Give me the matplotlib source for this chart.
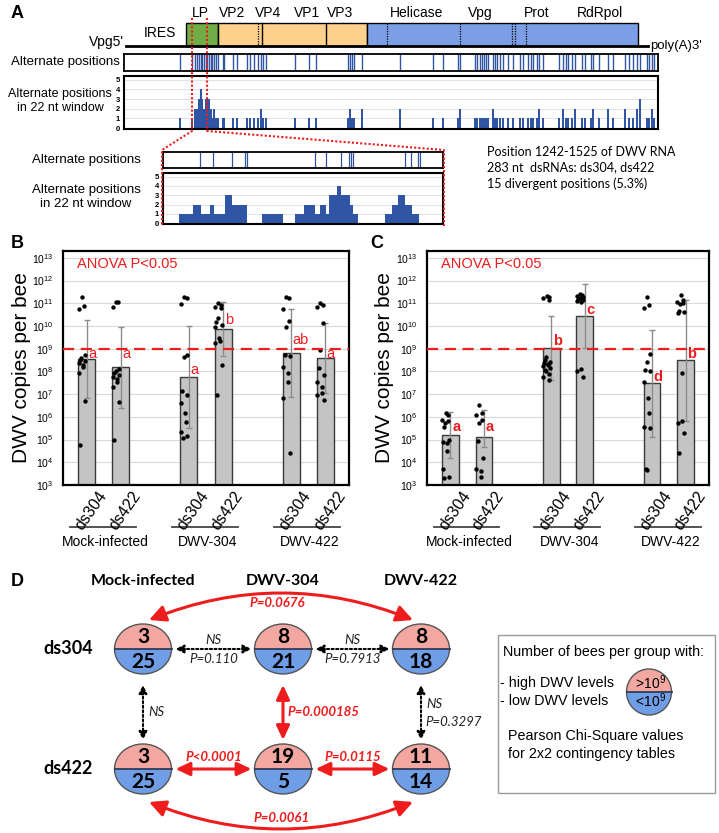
import numpy as np
import matplotlib
matplotlib.use("Agg")
import matplotlib.pyplot as plt
from matplotlib.patches import Rectangle, Polygon, Ellipse, FancyArrowPatch
from matplotlib.transforms import blended_transform_factory

plt.rcParams["font.family"] = ["Liberation Sans", "DejaVu Sans"]
plt.rcParams["mathtext.fontset"] = "custom"
plt.rcParams["mathtext.rm"] = "Liberation Sans"
plt.rcParams["mathtext.it"] = "Liberation Sans:italic"
plt.rcParams["mathtext.bf"] = "Liberation Sans:bold"

W, H = 719, 833
RED = "#ee1c1c"
BLUE = "#2f55a4"

# ---------------- panel A data (nt) ----------------
genome_len = 9850
region_start = [1128, 1732, 4544]
region_end = [1732, 4544, 9658]
region_color = ["#70ad47", "#fdd08c", "#7b9ee6"]
dotted_bounds = [1732, 2487, 4920, 6298, 7280, 7337, 7545]
solid_bounds = [2562, 3770]

alt_positions = [1015, 1247, 1298, 1342, 1374, 1411, 1436, 1468, 1500, 1530, 1562, 1595,
                 1625, 1657, 1695, 1738, 1821, 1851, 2021, 2096, 2274, 2336, 2412, 2493,
                 2538, 2587, 2632, 3185, 3455, 3582, 4191, 4223, 4255, 4299, 4444, 5167,
                 5795, 5972, 6267, 6299, 6582, 6625, 6676, 6708, 6752, 6790, 6833, 6916,
                 6959, 7003, 7054, 7116, 7210, 7293, 7431, 7493, 7588, 7633, 7682, 7746,
                 7795, 7860, 8173, 8248, 8299, 8343, 8407, 8469, 8595, 8658, 8765, 8803,
                 8927, 9097, 9192, 9412, 9494, 9569, 9645, 9695, 9822, 9871, 9916, 9960]
window_counts = [1, 1, 2, 2, 3, 4, 3, 2, 3, 3, 3, 2,
                 1, 2, 1, 1, 1, 1, 1, 1, 1, 1, 1, 1,
                 2, 1, 1, 1, 1, 1, 1, 2, 1, 1, 2, 2,
                 1, 1, 1, 2, 1, 1, 1, 1, 1, 1, 1, 2,
                 1, 1, 1, 1, 1, 1, 1, 1, 1, 1, 1, 1,
                 2, 1, 1, 2, 1, 1, 1, 2, 1, 1, 1, 2,
                 1, 2, 1, 2, 1, 1, 2, 3, 1, 1, 2, 1]

zoom_start, zoom_end = 1242, 1525
zoom_alt_offsets = [37, 51, 70, 83, 85, 154, 165, 180, 188, 190, 192, 245, 251, 258, 260]
zoom_step_edges = [0, 16, 30, 38, 48, 52, 63, 70, 85, 100, 121, 133, 143, 154, 159, 165,
                   168, 176, 180, 189, 192, 197, 224, 231, 238, 245, 252, 259, 283]
zoom_step_counts = [0, 1, 2, 1, 2, 1, 3, 2, 0, 1, 0, 1, 2, 1, 2, 1,
                    3, 4, 3, 2, 1, 0, 1, 2, 3, 2, 1, 0]

gene_labels = ["LP", "VP2", "VP4", "VP1", "VP3", "Helicase", "Vpg", "Prot", "RdRpol"]
gene_label_px = [200, 232, 268, 307, 340, 417, 480, 537, 600]

# ---------------- panels B / C data (log10 copies per bee) ----------------
bar_names = ["ds304", "ds422", "ds304", "ds422", "ds304", "ds422"]
groups = ["Mock-infected", "DWV-304", "DWV-422"]
positions = [1, 2, 4, 5, 7, 8]

b_bar = [8.53, 8.18, 7.77, 9.88, 8.80, 8.58]
b_err_hi = [10.26, 9.94, 10.0, 11.04, 10.73, 10.15]
b_err_lo = [6.81, 6.37, 5.52, 8.69, 6.89, 7.03]
b_dots = [
    [11.26, 10.88, 10.75, 8.72, 8.6, 8.5, 8.45, 8.38, 8.3, 8.2, 7.94, 6.71, 4.76],
    [11.07, 11.04, 10.85, 8.1, 8.0, 7.92, 7.85, 7.75, 7.65, 7.55, 7.3, 6.65, 4.98],
    [11.29, 11.22, 10.97, 8.72, 8.65, 7.15, 6.96, 6.6, 6.15, 5.78, 5.34, 5.15, 5.05],
    [11.0, 10.93, 10.85, 10.78, 10.34, 10.19, 10.04, 9.94, 9.46, 9.35, 9.24, 8.28, 6.96],
    [11.29, 11.22, 10.73, 10.22, 9.97, 8.72, 8.68, 8.18, 7.92, 7.55, 6.81, 4.42],
    [11.03, 10.93, 10.82, 10.12, 8.95, 8.13, 7.84, 7.55, 7.33, 7.06, 6.96, 6.74],
]
b_letters = ["a", "a", "a", "b", "ab", "a"]
b_letter_log10 = [8.59, 8.59, 7.89, 10.09, 9.2, 8.59]

c_bar = [5.2, 5.12, 9.04, 10.44, 7.48, 8.50]
c_err_hi = [6.23, 6.28, 10.44, 11.85, 9.82, 11.15]
c_err_lo = [4.20, 4.66, 7.62, 9.02, 5.12, 5.83]
c_dots = [
    [6.15, 6.08, 5.86, 5.8, 5.74, 5.56, 4.98, 4.9, 4.83, 4.51, 3.69, 3.36, 3.33],
    [6.52, 6.15, 6.08, 5.86, 5.74, 4.95, 4.17, 3.69, 3.63, 3.36],
    [11.3, 11.28, 11.22, 11.15, 8.65, 8.5, 8.43, 8.38, 8.33, 8.28, 8.22, 8.15, 8.08,
     8.0, 7.9, 7.75, 7.6],
    [11.4, 11.35, 11.32, 11.28, 11.25, 11.2, 11.15, 11.1, 11.05, 8.1, 8.0, 7.75],
    [11.29, 10.93, 10.78, 8.75, 8.4, 8.06, 8.0, 7.55, 6.81, 6.15, 5.56, 5.5, 3.72, 3.68],
    [11.37, 11.15, 11.05, 11.0, 10.95, 10.65, 10.6, 10.55, 7.92, 5.8, 5.72, 5.28, 4.43],
]
c_letters = ["a", "a", "b", "c", "d", "b"]
c_letter_log10 = [5.37, 5.37, 9.16, 10.53, 7.58, 8.59]
threshold = 1e9

# ---------------- panel D data ----------------
d_cols = ["Mock-infected", "DWV-304", "DWV-422"]
d_rows = ["ds304", "ds422"]
d_high = [[3, 8, 8], [3, 19, 11]]
d_low = [[25, 21, 18], [25, 5, 14]]
# (row, col) -> (row, col), label lines, significant
d_links = [
    ((0, 0), (0, 1), ["NS", "P=0.110"], False),
    ((0, 1), (0, 2), ["NS", "P=0.7913"], False),
    ((0, 0), (1, 0), ["NS"], False),
    ((0, 1), (1, 1), ["P=0.000185"], True),
    ((0, 2), (1, 2), ["NS", "P=0.3297"], False),
    ((1, 0), (1, 1), ["P<0.0001"], True),
    ((1, 1), (1, 2), ["P=0.0115"], True),
]
d_arcs = [((0, 0), (0, 2), "P=0.0676"), ((1, 0), (1, 2), "P=0.0061")]

# =====================================================================
fig = plt.figure(figsize=(W / 100, H / 100), dpi=100)


def px_axes(x0, y0, x1, y1):
    return fig.add_axes([x0 / W, 1 - y1 / H, (x1 - x0) / W, (y1 - y0) / H])


PX0, NT_PER_PX = 126.2, 18.87


def gx(nt):
    return PX0 + nt / NT_PER_PX


def gxlim(a, b):
    return ((a - PX0) * NT_PER_PX, (b - PX0) * NT_PER_PX)


# ---- genome map ----
gax = px_axes(124, 15, 662, 50)
gax.set_xlim(gxlim(124, 662))
gax.set_ylim(50, 15)
gax.axis("off")
gax.plot([0, genome_len], [46.5, 46.5], color="black", lw=2, clip_on=False)
for s, e, c in zip(region_start, region_end, region_color):
    gax.add_patch(Rectangle((s, 23), e - s, 23.5, fc=c, ec="black", lw=1))
gax.vlines(dotted_bounds, 23, 46.5, colors="black", lw=0.9, linestyles=(0, (1, 1)))
gax.vlines(solid_bounds, 23, 46.5, colors="black", lw=1)

# ---- alternate positions track ----
tax = px_axes(124, 54, 658, 71)
tax.set_xlim(gxlim(124, 658))
tax.set_ylim(0, 1)
tax.vlines(alt_positions, 0, 1, colors=BLUE, lw=1)
tax.set_xticks([])
tax.set_yticks([])
for sp in tax.spines.values():
    sp.set_linewidth(1.3)

# ---- 22 nt window histogram ----
hax = px_axes(124, 76, 658, 129)
hax.set_xlim(gxlim(124, 658))
hax.bar(alt_positions, window_counts, width=34, color=BLUE, zorder=2)
hax.set_ylim(-0.1, 5.4)
hax.set_yticks(range(6))
hax.set_yticklabels([str(i) for i in range(6)], fontsize=5.5, fontweight="bold")
hax.tick_params(axis="y", length=0, pad=3)
hax.set_xticks([])
hax.yaxis.grid(True, color="#e4e4e4", lw=0.8, zorder=0)
for sp in hax.spines.values():
    sp.set_linewidth(1.5)

# ---- zoomed tracks ----
zax = px_axes(163, 152, 443, 168)
zax.set_xlim(zoom_start, zoom_end)
zax.set_ylim(0, 1)
zax.vlines([zoom_start + o for o in zoom_alt_offsets], 0, 1, colors=BLUE, lw=0.9)
zax.set_xticks([])
zax.set_yticks([])
for sp in zax.spines.values():
    sp.set_linewidth(1.3)

zhax = px_axes(163, 173, 443, 224)
zhax.set_xlim(zoom_start, zoom_end)
zhax.stairs(zoom_step_counts, [zoom_start + e for e in zoom_step_edges], fill=True,
            color=BLUE, zorder=2)
zhax.set_ylim(-0.1, 5.4)
zhax.set_yticks(range(6))
zhax.set_yticklabels([str(i) for i in range(6)], fontsize=5.5, fontweight="bold")
zhax.tick_params(axis="y", length=0, pad=3)
zhax.set_xticks([])
zhax.yaxis.grid(True, color="#e4e4e4", lw=0.8, zorder=0)
for sp in zhax.spines.values():
    sp.set_linewidth(1.5)


# ---- bar panels ----
def bar_panel(x0, x1, bar, hi, lo, dots, letters, letter_y, bold):
    ax = px_axes(x0, 251, x1, 485)
    ax.set_yscale("log")
    ax.set_ylim(1e3, 10 ** 13.3)
    ax.set_xlim(0.3, 8.7)
    ax.yaxis.grid(True, color="#d9d9d9", lw=0.8)
    ax.set_axisbelow(True)
    h = 10 ** np.array(bar)
    ax.bar(positions, h, width=0.5, bottom=1e2, color="#c4c4c4", edgecolor="#3a3a3a",
           lw=1, zorder=2)
    ax.errorbar(positions, h, yerr=[h - 10 ** np.array(lo), 10 ** np.array(hi) - h],
                fmt="none", ecolor="#8c8c8c", elinewidth=1, capsize=2, zorder=3)
    for p, vals in zip(positions, dots):
        n = len(vals)
        xs = p - 0.14 + 0.1 * np.sin(np.arange(n) * 2.4)
        ax.scatter(xs, 10 ** np.array(vals), s=10, color="black", zorder=4, lw=0)
    for p, v, t in zip(positions, letter_y, letters):
        ax.text(p + 0.05, 10 ** v, t, color=RED, fontsize=10.5,
                fontweight="bold" if bold else "normal", ha="left", va="baseline",
                zorder=5)
    ax.axhline(threshold, color=RED, lw=1.6, dashes=(5, 3), zorder=4)
    ax.text(0.05, 0.945, "ANOVA P<0.05", color=RED, fontsize=10.5,
            transform=ax.transAxes, va="center")
    ax.set_yticks([10.0 ** k for k in range(3, 14)])
    ax.set_yticklabels([f"$10^{{{k}}}$" for k in range(3, 14)], fontsize=7.5)
    ax.minorticks_off()
    ax.tick_params(axis="y", length=0, pad=7)
    ax.set_xticks([])
    for sp in ax.spines.values():
        sp.set_linewidth(1.6)
    tr = blended_transform_factory(ax.transData, ax.transAxes)
    for p, name in zip(positions, bar_names):
        ax.text(p + 0.32, -0.015, name, fontsize=11.5, rotation=55, rotation_mode="anchor",
                ha="right", va="top", transform=tr)
    for g, name in zip([1.5, 4.5, 7.5], groups):
        ax.plot([g - 1.0, g + 0.95], [-0.18, -0.18], color="#444444", lw=1.3,
                transform=tr, clip_on=False)
        ax.text(g + 0.05, -0.245, name, fontsize=10, ha="center", va="center", transform=tr)
    return ax


bar_panel(63, 349, b_bar, b_err_hi, b_err_lo, b_dots, b_letters, b_letter_log10, False)
bar_panel(427, 709, c_bar, c_err_hi, c_err_lo, c_dots, c_letters, c_letter_log10, True)

# ---- overlay (pixel coordinates) ----
ov = fig.add_axes([0, 0, 1, 1])
ov.set_xlim(0, W)
ov.set_ylim(H, 0)
ov.axis("off")
ov.set_zorder(5)

for t, x in zip("ABCD", [11, 11, 370, 11]):
    y = {"A": 13, "B": 243, "C": 243, "D": 582}[t]
    ov.text(x, y, t, fontsize=13, fontweight="bold", ha="left", va="center")

# panel A texts
for name, x in zip(gene_labels, gene_label_px):
    ov.text(x, 13, name, fontsize=10, ha="center", va="center")
ov.text(160, 33, "IRES", fontsize=10, ha="center", va="center")
ov.text(124, 42, "Vpg5'", fontsize=10, ha="right", va="center")
ov.text(650, 46, "poly(A)3'", fontsize=9.5, ha="left", va="center")
ov.text(120, 62, "Alternate positions", fontsize=9.5, ha="right", va="center")
ov.text(60, 101, "Alternate positions\nin 22 nt window", fontsize=9, ha="center",
        va="center", linespacing=1.3)
ov.text(141, 160, "Alternate positions", fontsize=9.5, ha="right", va="center")
ov.text(86, 197, "Alternate positions\nin 22 nt window", fontsize=9.5, ha="center",
        va="center", linespacing=1.25)
ov.text(487, 168, "Position 1242-1525 of DWV RNA\n283 nt  dsRNAs: ds304, ds422\n"
        "15 divergent positions (5.3%)", fontsize=9, family=["Lato", "DejaVu Sans"],
        ha="left", va="center", linespacing=1.35)

# red dotted zoom guides
zl, zr = gx(zoom_start), gx(zoom_end)
ov.plot([zl, zl, 162, 162], [18, 131, 150, 226], color=RED, lw=1.5, ls=(0, (1, 1)))
ov.plot([zr, zr, 444, 444], [18, 131, 150, 226], color=RED, lw=1.5, ls=(0, (1, 1)))

# y labels for B and C
ov.text(22, 368, "DWV copies per bee", fontsize=15, rotation=90, ha="center", va="center")
ov.text(385, 368, "DWV copies per bee", fontsize=15, rotation=90, ha="center", va="center")

# ---- panel D ----
LATO = ["Lato", "DejaVu Sans"]
col_x = [143, 283, 421]
row_y = [649, 769]
RX, RY = 28.5, 25
PINK, LBLUE = "#f2a7a1", "#6f9de6"


def split_circle(cx, cy, rx, ry):
    t = np.linspace(0, np.pi, 60)
    top = np.column_stack([cx + rx * np.cos(t), cy - ry * np.sin(t)])
    bot = np.column_stack([cx + rx * np.cos(t), cy + ry * np.sin(t)])
    ov.add_patch(Polygon(top, closed=True, fc=PINK, ec="none"))
    ov.add_patch(Polygon(bot, closed=True, fc=LBLUE, ec="none"))
    ov.add_patch(Ellipse((cx, cy), 2 * rx, 2 * ry, fill=False, ec="#555555", lw=1))
    ov.plot([cx - rx, cx + rx], [cy, cy], color="#2f3b5a", lw=1.3)


for c, name in enumerate(d_cols):
    ov.text(col_x[c], 581, name, fontsize=11.5, fontweight="bold", family=LATO,
            ha="center", va="center")
for r, name in enumerate(d_rows):
    ov.text(68, row_y[r], name, fontsize=13, fontweight="bold", family=LATO,
            ha="center", va="center")
    for c in range(3):
        cx, cy = col_x[c], row_y[r]
        split_circle(cx, cy, RX, RY)
        ov.text(cx, cy - 12, str(d_high[r][c]), fontsize=15, fontweight="bold",
                family=LATO, ha="center", va="center")
        ov.text(cx, cy + 13, str(d_low[r][c]), fontsize=15, fontweight="bold",
                family=LATO, ha="center", va="center")


def p_text(x, y, s, sig, ha="center"):
    ov.text(x, y, s, fontsize=9.5, family=LATO, style="italic",
            fontweight="bold" if sig else "normal", color=RED if sig else "#222222",
            ha=ha, va="center")


for (r1, c1), (r2, c2), labels, sig in d_links:
    col = RED if sig else "black"
    if sig:
        kw = dict(arrowstyle="<|-|>,head_length=0.85,head_width=0.4", mutation_scale=10,
                  lw=2.2, color=col)
    else:
        kw = dict(arrowstyle="<|-|>,head_length=0.7,head_width=0.35", mutation_scale=7,
                  lw=1.5, color=col, linestyle=(0, (1, 1.2)))
    if r1 == r2:
        y = row_y[r1]
        xa, xb = col_x[c1] + RX + 4, col_x[c2] - RX - 3
        ov.add_patch(FancyArrowPatch((xa, y), (xb, y), shrinkA=0, shrinkB=0, **kw))
        xm = (xa + xb) / 2
        if len(labels) == 2:
            p_text(xm, y - 9, labels[0], sig)
            p_text(xm, y + 10, labels[1], sig)
        else:
            p_text(xm, y - 12, labels[0], sig)
    else:
        x = col_x[c1]
        ya, yb = row_y[r1] + RY + 11, row_y[r2] - RY - 4
        ov.add_patch(FancyArrowPatch((x, ya), (x, yb), shrinkA=0, shrinkB=0, **kw))
        ym = (ya + yb) / 2
        if len(labels) == 2:
            p_text(x + 5, ym - 9, labels[0], sig, ha="left")
            p_text(x + 4, ym + 9, labels[1], sig, ha="left")
        else:
            p_text(x + 4 if sig else x + 5, ym, labels[0], sig, ha="left")

for (r1, c1), (r2, c2), label in d_arcs:
    top = r1 == 0
    ya = row_y[r1] - RY - 4 if top else row_y[r1] + RY + 8
    ov.add_patch(FancyArrowPatch((col_x[c1] + 6, ya), (col_x[c2] - 8, ya),
                                 connectionstyle=f"arc3,rad={-0.2 if top else 0.2}",
                                 arrowstyle="<|-|>,head_length=0.9,head_width=0.45",
                                 mutation_scale=11, lw=2.2, color=RED,
                                 shrinkA=0, shrinkB=0))
    p_text(277 if top else 282, 603 if top else 818, label, True)

# legend box
ov.add_patch(Rectangle((498, 635), 217, 158, fill=False, ec="#9a9a9a", lw=1))
ov.text(503, 652, "Number of bees per group with:", fontsize=10.3, ha="left", va="center")
ov.text(500, 683, "- high DWV levels", fontsize=10.3, ha="left", va="center")
ov.text(500, 701, "- low DWV levels", fontsize=10.3, ha="left", va="center")
split_circle(649, 692, 22.5, 23)
ov.text(650, 683, r"$>\!10^9$", fontsize=10, ha="center", va="center")
ov.text(650, 701, r"$<\!10^9$", fontsize=10, ha="center", va="center")
ov.text(508, 745, "Pearson Chi-Square values\nfor 2x2 contingency tables", fontsize=10.3,
        ha="left", va="center", linespacing=1.3)

fig.savefig("out.png", dpi=100)
